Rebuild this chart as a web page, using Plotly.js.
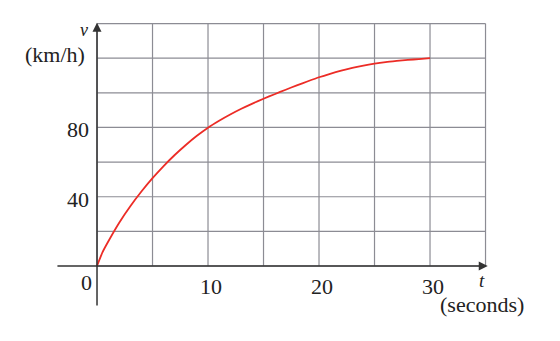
<!DOCTYPE html>
<html><head><meta charset="utf-8">
<script src="https://cdn.plot.ly/plotly-3.0.1.min.js"></script>
<style>html,body{margin:0;padding:0;background:#fff}#c{width:560px;height:341px}</style>
</head><body><div id="c"></div>
<script>
// data
const tSeconds = [0,0.5,1,2,3,4,5,6,7,8,9,10,11,12,13,14,15,16,17,18,19,20,21,22,23,24,25,26,27,28,29,30];
const vKmh     = [0,8,14,25,34.5,43,50.7,57.7,64.1,69.9,75.2,79.9,83.9,87.5,90.8,93.8,96.6,99.2,101.8,104.3,106.7,109,111,112.8,114.4,115.7,116.8,117.7,118.4,119,119.5,120];
const xTicks = [10,20,30];
const yTicks = [40,80];
const xGrid = [0,5,10,15,20,25,30,35];
const yGrid = [0,20,40,60,80,100,120,140];

const serif = 'Liberation Serif';
const gridCol = '#8c8c94';
const shapes = [];
xGrid.forEach(g => shapes.push({type:'line',xref:'x',yref:'y',x0:g,x1:g,y0:0,y1:140,line:{color:gridCol,width:1.2},layer:'below'}));
yGrid.forEach(g => shapes.push({type:'line',xref:'x',yref:'y',x0:0,x1:35,y0:g,y1:g,line:{color:gridCol,width:1.2},layer:'below'}));

const ann = [];
ann.push({x:35.2,y:0,ax:-3.7,ay:0,xref:'x',yref:'y',axref:'x',ayref:'y',showarrow:true,arrowhead:2,arrowsize:1.2,arrowwidth:1.5,arrowcolor:'#333',text:''});
ann.push({x:0,y:140.5,ax:0,ay:-23.7,xref:'x',yref:'y',axref:'x',ayref:'y',showarrow:true,arrowhead:2,arrowsize:1.2,arrowwidth:1.5,arrowcolor:'#333',text:''});
const f = {family:serif,size:22,color:'#222'};
const c = {showarrow:false,xanchor:'center',yanchor:'middle',xref:'x',yref:'y',font:f,borderpad:0};
xTicks.forEach(t => ann.push(Object.assign({},c,{x:t,y:0,text:String(t),xshift:3,yshift:-20})));
yTicks.forEach(v => ann.push(Object.assign({},c,{x:0,y:v,text:String(v),xanchor:'right',xshift:-7,yshift:-2.5})));
ann.push(Object.assign({},c,{x:0,y:0,text:'0',xshift:-10.7,yshift:-16.7}));
ann.push(Object.assign({},c,{x:0,y:140,text:'<i>v</i>',xshift:-13.3,yshift:-6.3,font:{family:serif,size:18,color:'#222'}}));
ann.push(Object.assign({},c,{x:0,y:120,text:'(km/h)',xshift:-41.7,yshift:4}));
ann.push(Object.assign({},c,{x:35,y:0,text:'<i>t</i>',xshift:-3.8,yshift:-14.5,font:{family:serif,size:19,color:'#222'}}));
ann.push(Object.assign({},c,{x:35,y:0,text:'(seconds)',xshift:-3.8,yshift:-38.5}));

const trace = {x:tSeconds,y:vKmh,type:'scatter',mode:'lines',line:{color:'#ec2c26',width:1.8,shape:'spline',smoothing:0.6},hoverinfo:'skip'};
const layout = {
  width:560,height:341,margin:{l:0,r:0,t:0,b:0},
  paper_bgcolor:'#fff',plot_bgcolor:'#fff',showlegend:false,
  xaxis:{range:[-8.739,41.71],showgrid:false,zeroline:false,showticklabels:false,ticks:'',fixedrange:true},
  yaxis:{range:[-43.3,153.6],showgrid:false,zeroline:false,showticklabels:false,ticks:'',fixedrange:true},
  shapes:shapes,annotations:ann
};
Plotly.newPlot('c',[trace],layout,{staticPlot:true,displayModeBar:false});
</script></body></html>
